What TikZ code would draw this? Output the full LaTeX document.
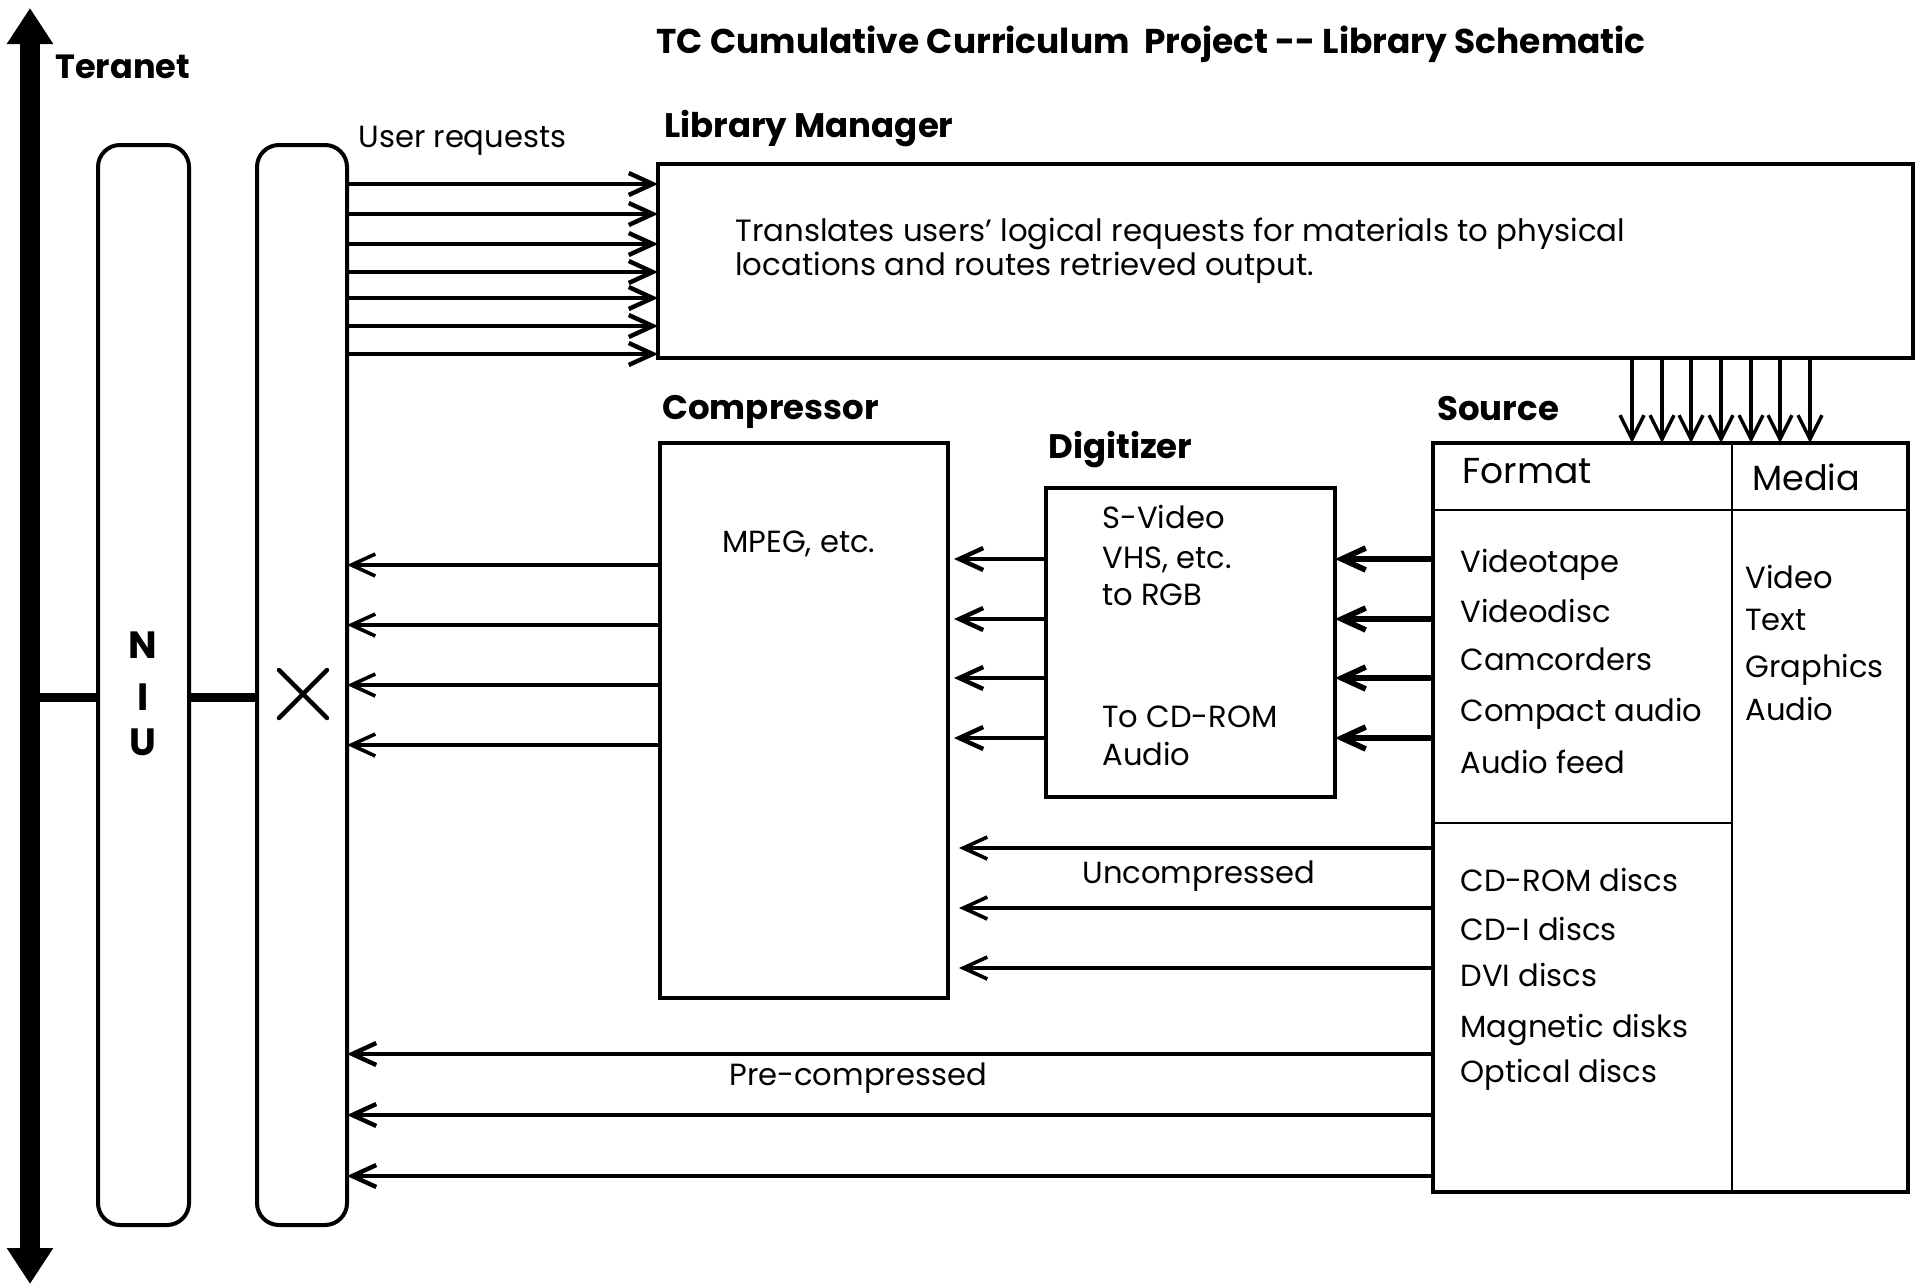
\documentclass[tikz,border=0pt]{standalone}
\usepackage{fontspec}
\setmainfont{Poppins}
\usetikzlibrary{arrows.meta}
\begin{document}
\begin{tikzpicture}[x=0.5pt,y=-0.5pt,
  box/.style={draw,rectangle,inner sep=0pt,outer sep=0pt,anchor=north west,line width=2pt},
  pill/.style={draw,rectangle,rounded corners=11pt,inner sep=0pt,outer sep=0pt,anchor=north west,line width=2pt},
  lbl/.style={anchor=base west,inner sep=0pt,font=\fontsize{15.3}{18}\selectfont},
  head/.style={anchor=base west,inner sep=0pt,font=\fontsize{17}{20}\selectfont\bfseries},
  arr/.style={line width=2.2pt,-{Straight Barb[length=12pt,width=11pt]}},
  thinarr/.style={line width=1.8pt,-{Straight Barb[length=12pt,width=11pt]}},
  downarr/.style={line width=1.7pt,-{Straight Barb[length=12pt,width=12pt]}},
  link/.style={line width=4.5pt}]
\useasboundingbox (0,0) rectangle (1921,1286);

% Teranet backbone
\coordinate (ttop) at (30,8);
\coordinate (tbot) at (30,1284);
\draw[line width=10pt,{Triangle[length=18pt,width=22pt]}-{Triangle[length=18pt,width=22pt]}] (ttop) -- (tbot);
\node[head,font=\fontsize{16.8}{20}\selectfont\bfseries] (teranet) at (55,78) {Teranet};

% title
\node[head,font=\fontsize{17.2}{22}\selectfont\bfseries] (title) at (656,53) {TC Cumulative Curriculum\ \ Project -{}- Library Schematic};

% NIU and switch
\node[pill,minimum width=45.5pt,minimum height=540pt] (niu) at (98,145) {};
\node[pill,minimum width=45pt,minimum height=540pt] (sw) at (257,145) {};
\node[font=\fontsize{19}{22}\selectfont\bfseries,inner sep=0pt] (n) at (143,645) {N};
\node[font=\fontsize{19}{22}\selectfont\bfseries,inner sep=0pt] (i) at (143,697) {I};
\node[font=\fontsize{19}{22}\selectfont\bfseries,inner sep=0pt] (u) at (143,742) {U};
\draw[link] (ttop |- 0,697) -- (niu.west |- 0,697);
\draw[link] (niu.east |- 0,697) -- (sw.west |- 0,697);
\draw[line width=2.2pt,line cap=round] (279,670) -- (327,718);
\draw[line width=2.2pt,line cap=round] (279,718) -- (327,670);

% Library manager
\node[head] (lmlabel) at (664,137) {Library Manager};
\node[box,minimum width=627.5pt,minimum height=97pt,line width=2.4pt] (lm) at (658,164) {};
\node[lbl,align=left,anchor=north west,font=\fontsize{15.4}{15.5}\selectfont] (lmtext) at (735,218)
  {Translates users' logical requests for materials to physical\\locations and routes retrieved output.};
\node[lbl] (ureq) at (358,147) {User requests};
\foreach \y in {184,214,244,272,298,326,354}
  \draw[arr] (sw.east |- 0,\y) -- (lm.west |- 0,\y);

% Compressor
\node[head] (complabel) at (662,419) {Compressor};
\node[box,minimum width=144pt,minimum height=277.5pt] (comp) at (660,443) {};
\node[lbl] (mpeg) at (722,552) {MPEG,\ etc.};
\foreach \y in {565,625,685,745}
  \draw[thinarr] (comp.west |- 0,\y) -- (sw.east |- 0,\y);

% Digitizer
\node[head] (diglabel) at (1048,458) {Digitizer};
\node[box,minimum width=144.5pt,minimum height=154.5pt] (dig) at (1046,488) {};
\node[lbl] (d1) at (1102,528) {S-Video};
\node[lbl] (d2) at (1102,568) {VHS, etc.};
\node[lbl] (d3) at (1102,605) {to RGB};
\node[lbl] (d4) at (1102,727) {To CD-ROM};
\node[lbl] (d5) at (1102,765) {Audio};
\foreach \y in {559,619,678,738}
  \draw[arr] (dig.west |- 0,\y) -- ([xshift=3pt]comp.east |- 0,\y);

% Source
\node[head] (srclabel) at (1437,420) {Source};
\node[box,minimum width=237.5pt,minimum height=374.5pt] (src) at (1433,443) {};
\draw[line width=1pt] (src.north -| 1732,0) -- (src.south -| 1732,0);
\draw[line width=1pt] (src.west |- 0,510) -- (src.east |- 0,510);
\draw[line width=1pt] (src.west |- 0,823) -- (1732,823);
\node[lbl,font=\fontsize{18}{22}\selectfont] (fmt) at (1462,483) {Format};
\node[lbl,font=\fontsize{17.5}{22}\selectfont] (media) at (1752,490) {Media};
\node[lbl] (f1) at (1460,572) {Videotape};
\node[lbl] (f2) at (1460,622) {Videodisc};
\node[lbl] (f3) at (1460,670) {Camcorders};
\node[lbl] (f4) at (1460,721) {Compact audio};
\node[lbl] (f5) at (1460,773) {Audio feed};
\node[lbl] (m1) at (1745,588) {Video};
\node[lbl] (m2) at (1745,630) {Text};
\node[lbl] (m3) at (1745,677) {Graphics};
\node[lbl] (m4) at (1745,720) {Audio};
\node[lbl] (g1) at (1460,891) {CD-ROM discs};
\node[lbl] (g2) at (1460,940) {CD-I discs};
\node[lbl] (g3) at (1460,986) {DVI discs};
\node[lbl] (g4) at (1460,1037) {Magnetic disks};
\node[lbl] (g5) at (1460,1082) {Optical discs};
\foreach \x in {1632,1662,1691,1721,1751,1780,1810}
  \draw[downarr] (lm.south -| \x,0) -- (src.north -| \x,0);
\foreach \y in {559,619,678,738}
  \draw[line width=2.8pt,-{Straight Barb[length=12pt,width=11pt]}] (src.west |- 0,\y) -- (dig.east |- 0,\y);

% Uncompressed feeds
\foreach \y in {848,908,968}
  \draw[thinarr] (src.west |- 0,\y) -- ([xshift=5.5pt]comp.east |- 0,\y);
\node[lbl] (unc) at (1082,883) {Uncompressed};

% Pre-compressed feeds
\foreach \y in {1054,1115,1176}
  \draw[arr] (src.west |- 0,\y) -- (sw.east |- 0,\y);
\node[lbl] (pre) at (729,1085) {Pre-compressed};
\end{tikzpicture}
\end{document}
